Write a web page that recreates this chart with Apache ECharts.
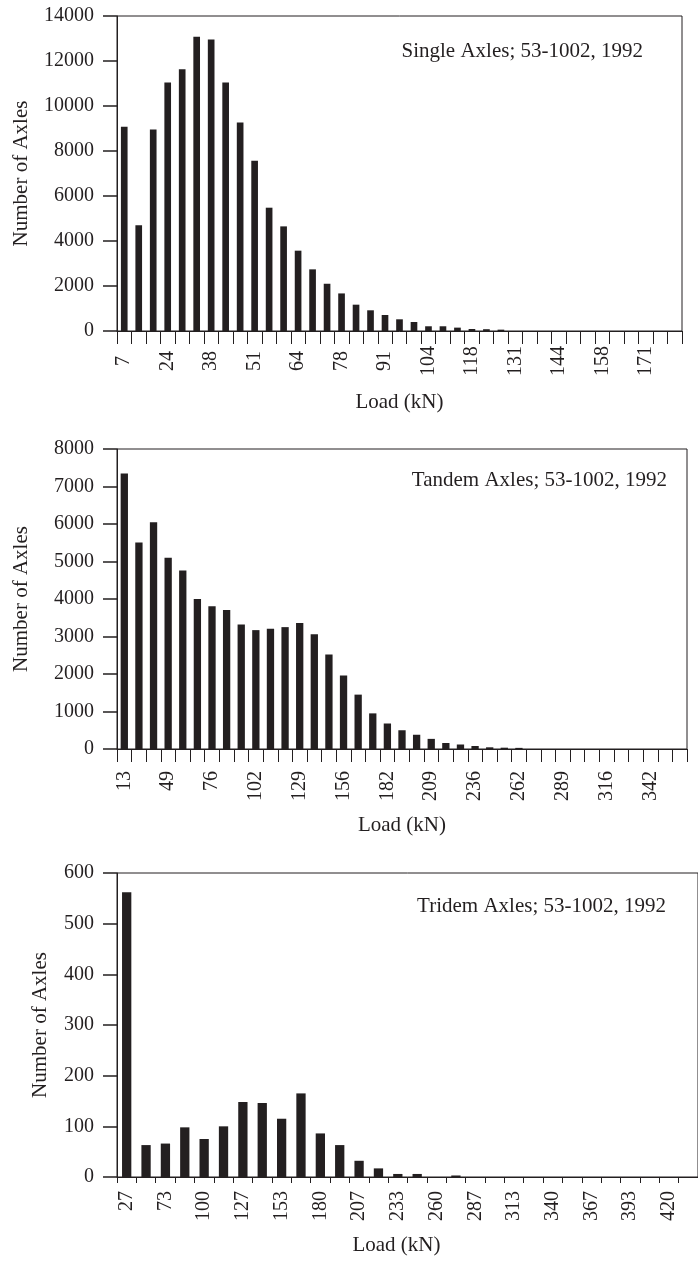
<!DOCTYPE html>
<html>
<head>
<meta charset="utf-8">
<script src="https://cdn.jsdelivr.net/npm/echarts@6/dist/echarts.min.js"></script>
<style>
  html, body { margin: 0; padding: 0; background: #fff; }
  #chart { width: 698px; height: 1263px; }
</style>
</head>
<body>
<div id="chart"></div>
<script>
// load bins (kN), only every 3rd / 2nd is labelled in the figure
const singleLoads = ['7','16','20','24','29','33','38','42','47','51','56','60','64','69','73','78','82','87','91','96','100','104','109','113','118','122','127','131','136','140','144','149','153','158','162','167','171','176','180'];
const singleCounts = [9080, 4700, 8960, 11050, 11630, 13080, 12960, 11050, 9270, 7570, 5480, 4650, 3570, 2740, 2100, 1670, 1170, 920, 710, 520, 400, 210, 210, 150, 90, 80, 60, 0, 0, 0, 0, 0, 0, 0, 0, 0, 0, 0, 0];

const tandemLoads = ['13','31','40','49','58','67','76','85','93','102','111','120','129','138','147','156','165','173','182','191','200','209','218','227','236','245','254','262','271','280','289','298','307','316','325','334','342','351','360'];
const tandemCounts = [7350, 5510, 6050, 5100, 4760, 4000, 3810, 3710, 3320, 3170, 3210, 3250, 3360, 3060, 2520, 1960, 1450, 950, 680, 500, 380, 270, 160, 120, 80, 45, 35, 30, 0, 0, 0, 0, 0, 0, 0, 0, 0, 0, 0];

const tridemLoads = ['27','60','73','87','100','113','127','140','153','167','180','193','207','220','233','247','260','273','287','300','313','327','340','353','367','380','393','407','420','433'];
const tridemCounts = [562, 63, 66, 98, 75, 100, 148, 146, 115, 165, 86, 63, 32, 17, 6, 6, 0, 3, 0, 0, 0, 0, 0, 0, 0, 0, 0, 0, 0, 0];

const panelTitles = ['Single Axles; 53-1002, 1992', 'Tandem Axles; 53-1002, 1992', 'Tridem Axles; 53-1002, 1992'];

const ink = '#231f20';
const serif = '"Liberation Serif", "Times New Roman", serif';

const chart = echarts.init(document.getElementById('chart'), null, { renderer: 'canvas' });

const xAxisFor = (gridIndex, data, opts) => ({
  type: 'category',
  gridIndex,
  data,
  boundaryGap: true,
  name: 'Load (kN)',
  nameLocation: 'middle',
  nameGap: opts.nameGap,
  nameTextStyle: { color: ink, fontFamily: serif, fontSize: 21, padding: opts.namePad || 0 },
  axisLine: { show: true, lineStyle: { color: ink, width: 1 } },
  axisTick: { show: true, inside: false, alignWithLabel: false, interval: 0, length: opts.tickLen, lineStyle: { color: ink, width: 1 } },
  axisLabel: {
    interval: opts.every,
    rotate: 90,
    margin: opts.margin,
    align: opts.align,
    color: ink,
    fontFamily: serif,
    fontSize: 20
  },
  splitLine: { show: false }
});

const yAxisFor = (gridIndex, max, interval, nameGap) => ({
  type: 'value',
  gridIndex,
  position: 'left',
  min: 0,
  max,
  interval,
  name: 'Number of Axles',
  nameLocation: 'middle',
  nameGap,
  nameTextStyle: { color: ink, fontFamily: serif, fontSize: 21 },
  axisLine: { show: true, onZero: false, lineStyle: { color: ink, width: 1 } },
  axisTick: { show: true, inside: false, interval: 0, length: 14, lineStyle: { color: ink, width: 1.5 } },
  axisLabel: { margin: 23, color: ink, fontFamily: serif, fontSize: 20, formatter: v => String(v) },
  splitLine: { show: false }
});

const gridBox = { show: true, borderColor: ink, borderWidth: 1, backgroundColor: 'transparent' };

const barSeries = (idx, data, width) => ({
  type: 'bar',
  xAxisIndex: idx,
  yAxisIndex: idx,
  data,
  barWidth: width,
  itemStyle: { color: ink },
  silent: true
});

const noteText = (x, y, text) => ({
  type: 'text',
  x,
  y,
  style: {
    text,
    fill: ink,
    font: '21px ' + serif,
    align: 'right',
    textAlign: 'right',
    verticalAlign: 'middle',
    textVerticalAlign: 'middle'
  }
});

chart.setOption({
  animation: false,
  backgroundColor: '#fff',
  grid: [
    Object.assign({ left: 117, top: 16, width: 565, height: 315 }, gridBox),
    Object.assign({ left: 117, top: 449, width: 570, height: 300 }, gridBox),
    Object.assign({ left: 117, top: 873, width: 583, height: 304 }, gridBox)
  ],
  xAxis: [
    xAxisFor(0, singleLoads, { every: 2, tickLen: 13, margin: 30, align: 'center', nameGap: 61 }),
    xAxisFor(1, tandemLoads, { every: 2, tickLen: 13, margin: 22, nameGap: 66 }),
    xAxisFor(2, tridemLoads, { every: 1, tickLen: 6, margin: 14, nameGap: 58, namePad: [0, 22, 0, 0] })
  ],
  yAxis: [
    yAxisFor(0, 14000, 2000, 85),
    yAxisFor(1, 8000, 1000, 85),
    yAxisFor(2, 600, 100, 66)
  ],
  series: [
    barSeries(0, singleCounts, '46%'),
    barSeries(1, tandemCounts, '50%'),
    barSeries(2, tridemCounts, '48%')
  ],
  graphic: [
    noteText(643, 51, panelTitles[0]),
    noteText(667, 480, panelTitles[1]),
    noteText(666, 906, panelTitles[2])
  ]
});
</script>
</body>
</html>
